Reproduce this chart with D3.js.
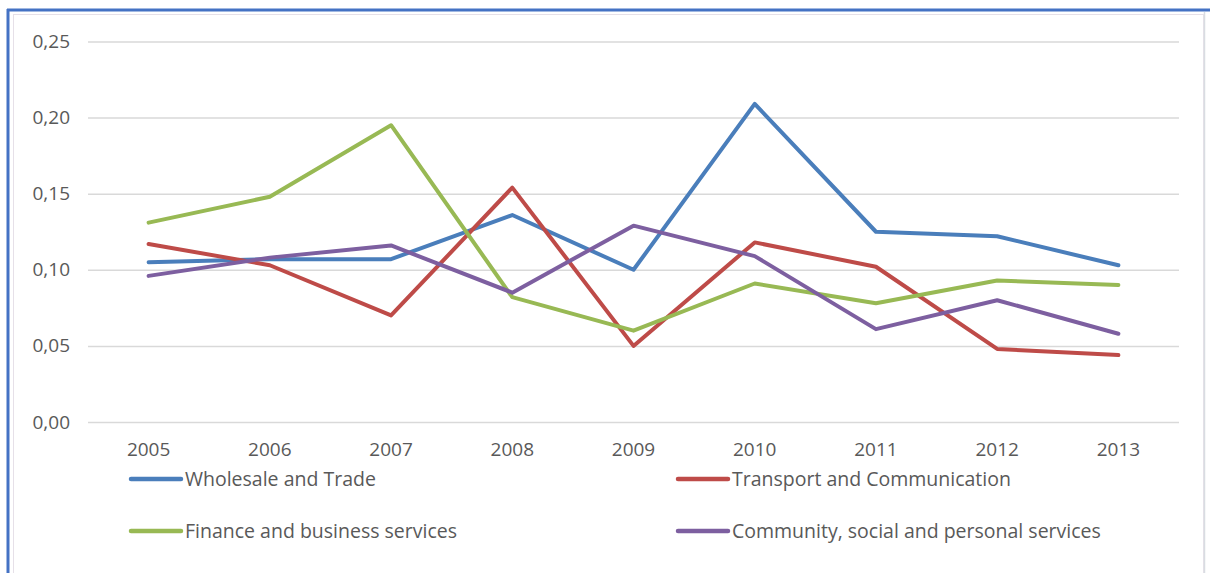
<!DOCTYPE html>
<html>
<head>
<meta charset="utf-8">
<script src="https://cdn.jsdelivr.net/npm/d3@7/dist/d3.min.js"></script>
<style>
  html, body { margin: 0; padding: 0; background: #fff; }
  svg { display: block; }
  text { font-family: "Open Sans", Lato, sans-serif; fill: #595959; }
</style>
</head>
<body>
<svg id="chart" width="1210" height="573"></svg>
<script>
const years = ["2005","2006","2007","2008","2009","2010","2011","2012","2013"];
const wholesale = [0.105, 0.107, 0.107, 0.136, 0.100, 0.209, 0.125, 0.122, 0.103];
const transport = [0.117, 0.103, 0.070, 0.154, 0.050, 0.118, 0.102, 0.048, 0.044];
const finance   = [0.131, 0.148, 0.195, 0.082, 0.060, 0.091, 0.078, 0.093, 0.090];
const community = [0.096, 0.108, 0.116, 0.085, 0.129, 0.109, 0.061, 0.080, 0.058];
const yTicks = [0, 0.05, 0.10, 0.15, 0.20, 0.25];
const seriesNames = ["Wholesale and Trade", "Transport and Communication",
                     "Finance and business services", "Community, social and personal services"];
const seriesColors = ["#4a7ebb", "#be4b48", "#98b954", "#7d5fa0"];

const series = [wholesale, transport, finance, community].map((v, i) => ({
  name: seriesNames[i], color: seriesColors[i], values: v
}));

const svg = d3.select("#chart");

// frame
svg.append("rect").attr("x", 13.5).attr("y", 14.5).attr("width", 1190).attr("height", 570)
  .attr("fill", "none").attr("stroke", "#e6e0e8").attr("stroke-width", 1);
svg.append("line").attr("x1", 8).attr("x2", 8).attr("y1", 9).attr("y2", 573)
  .attr("stroke", "#4472c4").attr("stroke-width", 3);
svg.append("line").attr("x1", 7).attr("x2", 1210).attr("y1", 10).attr("y2", 10)
  .attr("stroke", "#4472c4").attr("stroke-width", 3);
svg.append("line").attr("x1", 1204.5).attr("x2", 1204.5).attr("y1", 12).attr("y2", 573)
  .attr("stroke", "#d9dde2").attr("stroke-width", 1.5);

const plotLeft = 88, plotRight = 1179, plotTop = 41.5, plotBottom = 422;
const x = d3.scaleBand().domain(years).range([plotLeft, plotRight]);
const y = d3.scaleLinear().domain([0, 0.25]).range([plotBottom, plotTop]);

// gridlines
const yAxis = d3.axisLeft(y).tickValues(yTicks).tickSize(-(plotRight - plotLeft))
  .tickFormat(d => d3.format(".2f")(d).replace(".", ","));
const gy = svg.append("g").attr("transform", `translate(${plotLeft},0)`).call(yAxis);
gy.select(".domain").remove();
gy.selectAll(".tick line").attr("stroke", "#d9d9d9").attr("stroke-width", 1.5);
gy.selectAll(".tick text").attr("x", -18).attr("font-size", 19).style("fill", "#595959")
  .attr("font-family", "'Open Sans', sans-serif");

// x axis labels
const xAxis = d3.axisBottom(x).tickSize(0).tickPadding(0);
const gx = svg.append("g").attr("transform", `translate(0,${plotBottom})`).call(xAxis);
gx.select(".domain").remove();
gx.selectAll(".tick text").attr("y", 21).attr("dy", "0.71em").attr("font-size", 19)
  .style("fill", "#595959").attr("font-family", "'Open Sans', sans-serif");

// lines
const line = d3.line().x((d, i) => x(years[i]) + x.bandwidth() / 2).y(d => y(d));
svg.append("g").selectAll("path").data(series).join("path")
  .attr("d", d => line(d.values))
  .attr("fill", "none").attr("stroke", d => d.color).attr("stroke-width", 4)
  .attr("stroke-linejoin", "round").attr("stroke-linecap", "round");

// legend
const legendPos = [[131, 479], [678, 479], [131, 531], [678, 531]];
const lg = svg.append("g").selectAll("g").data(series).join("g")
  .attr("transform", (d, i) => `translate(${legendPos[i][0]},${legendPos[i][1]})`);
lg.append("line").attr("x1", 0).attr("x2", 50).attr("y1", 0).attr("y2", 0)
  .attr("stroke", d => d.color).attr("stroke-width", 4.5).attr("stroke-linecap", "round");
lg.append("text").attr("x", 54).attr("y", 0).attr("dy", "0.36em").attr("font-size", 19.5)
  .text(d => d.name);
</script>
</body>
</html>
